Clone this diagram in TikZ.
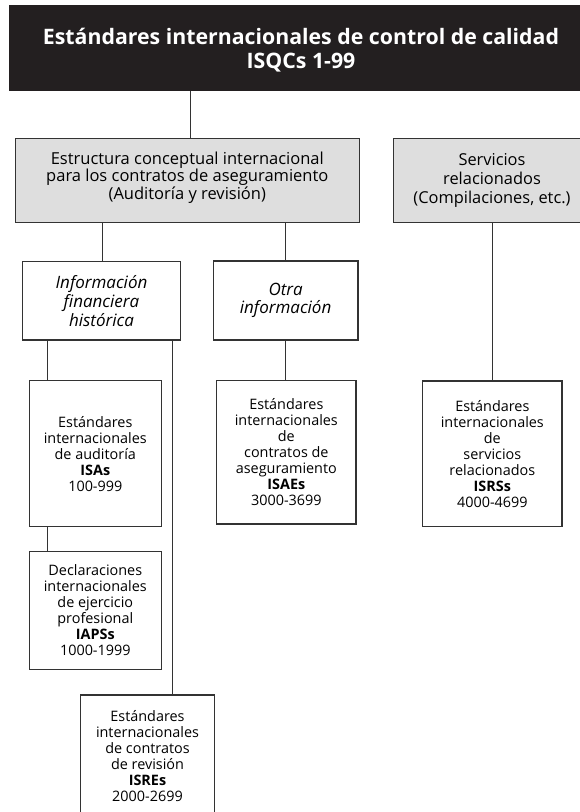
\documentclass[tikz,border=0pt]{standalone}
\usepackage{fontspec}
\setmainfont{Open Sans}
\definecolor{titleblack}{HTML}{231F20}
\definecolor{linec}{HTML}{333333}
\definecolor{boxgray}{HTML}{DEDEDE}
\tikzset{
  box/.style={draw=linec, line width=1.2pt, fill=white, align=center, inner sep=0pt,
    font=\fontsize{14.4}{16}\selectfont},
  graybox/.style={box, fill=boxgray},
  txt/.style={align=center, inner sep=0pt},
  conn/.style={draw=linec, line width=0.9pt},
}
\begin{document}
\begin{tikzpicture}[x=1pt,y=-1pt]
\useasboundingbox (0,0) rectangle (579,812);
% title
\node[fill=titleblack, inner sep=0pt, minimum width=584, minimum height=85.7] (title) at (301,47.85) {};
\node[txt, text=white, font=\fontsize{21.3}{24}\selectfont\bfseries] (titletext) at (301,50.6)
  {Estándares internacionales de control de calidad\\ISQCs 1-99};
% second level
\node[graybox, minimum width=344, minimum height=84.7] (estr) at (187.3,180.5) {};
\node[txt, font=\fontsize{16.5}{13.8}\selectfont] (estrtext) at (187.3,177.4)
  {Estructura conceptual internacional\\para los contratos de aseguramiento\\(Auditoría y revisión)};
\node[graybox, minimum width=197.4, minimum height=84.7, font=\fontsize{16.4}{18.7}\selectfont] (serv) at (492,180.5)
  {Servicios\\relacionados\\(Compilaciones, etc.)};
% third level
\node[box, minimum width=157.6, minimum height=78.3, font=\fontsize{17}{18.8}\selectfont\itshape] (ifh) at (101.5,300.85)
  {Información\\financiera\\histórica};
\node[box, minimum width=144.7, minimum height=79, font=\fontsize{17}{18.3}\selectfont\itshape] (otra) at (285.65,300.5)
  {Otra\\información};
% fourth level
\node[box, minimum width=132, minimum height=146] (isa) at (95.3,453.7)
  {Estándares\\internacionales\\de auditoría\\\textbf{ISAs}\\100-999};
\node[box, minimum width=139.3, minimum height=143.3] (isae) at (286.35,452.35)
  {Estándares\\internacionales\\de\\contratos de\\aseguramiento\\\textbf{ISAEs}\\3000-3699};
\node[box, minimum width=139.3, minimum height=145.7] (isrs) at (492.35,453.85)
  {Estándares\\internacionales\\de\\servicios\\relacionados\\\textbf{ISRSs}\\4000-4699};
\node[box, minimum width=132, minimum height=118] (iaps) at (95.3,610.5)
  {Declaraciones\\internacionales\\de ejercicio\\profesional\\\textbf{IAPSs}\\1000-1999};
\node[box, minimum width=133.6, minimum height=122] (isre) at (147.5,756)
  {Estándares\\internacionales\\de contratos\\de revisión\\\textbf{ISREs}\\2000-2699};
% connectors
\draw[conn] ([xshift=3]estr.north) -- ([xshift=3]estr.north |- title.south);
\draw[conn] ([xshift=0.8]ifh.north) -- ([xshift=0.8]ifh.north |- estr.south);
\draw[conn] (otra.north) -- (otra.north |- estr.south);
\draw[conn] (isrs.north) -- (isrs.north |- serv.south);
\draw[conn] (otra.south) -- (otra.south |- isae.north);
\draw[conn] ([xshift=-47.6]isa.north) -- ([xshift=-47.6]isa.north |- ifh.south);
\draw[conn] ([xshift=-47.6]iaps.north) -- ([xshift=-47.6]iaps.north |- isa.south);
\draw[conn] ([xshift=24.8]isre.north) -- ([xshift=24.8]isre.north |- ifh.south);
\end{tikzpicture}
\end{document}
